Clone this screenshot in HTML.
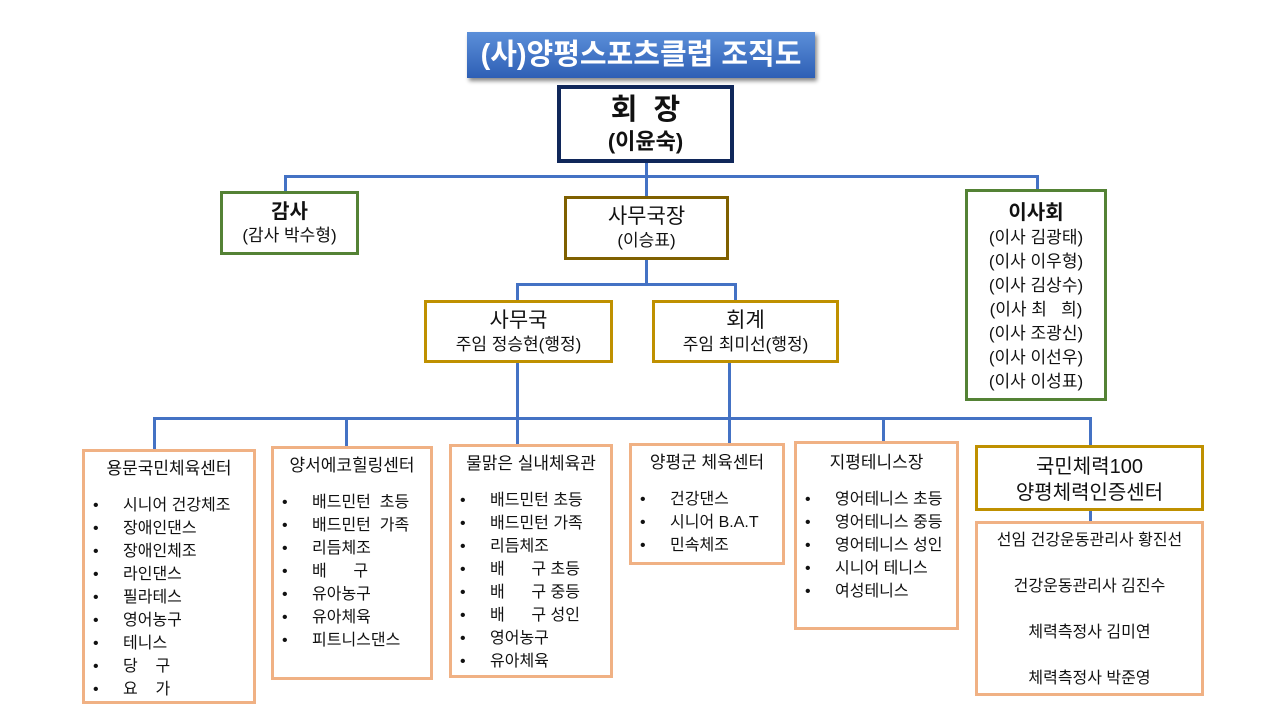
<!DOCTYPE html>
<html><head><meta charset="utf-8"><style>
body{margin:0;width:1280px;height:720px;background:#fff;position:relative;overflow:hidden;font-family:"Liberation Sans","Noto Sans CJK KR",sans-serif;color:#111}
.b{position:absolute;box-sizing:border-box;background:#fff;text-align:center}
.l{position:absolute;background:#4472c4}
.o{border:3px solid #f0b184}
ul{list-style:none;margin:0;padding:0;text-align:left}
ul li{position:relative;padding-left:38px;font-size:16px;line-height:23px}
ul li:before{content:"•";position:absolute;left:8px}
.t{font-size:17px;line-height:22px}
</style></head><body>
<div class="b" style="left:467px;top:32px;width:348px;height:46px;background:linear-gradient(#5b8fd9,#2e5fb5);color:#fff;font-size:29px;font-weight:bold;line-height:46px;box-shadow:2px 3px 4px #888">(사)양평스포츠클럽 조직도</div>

<!-- lines -->
<div class="l" style="left:645px;top:162px;width:3px;height:34px"></div>
<div class="l" style="left:284px;top:175px;width:754px;height:3px"></div>
<div class="l" style="left:284px;top:175px;width:3px;height:17px"></div>
<div class="l" style="left:1036px;top:175px;width:3px;height:15px"></div>
<div class="l" style="left:645px;top:259px;width:3px;height:26px"></div>
<div class="l" style="left:516px;top:283px;width:220px;height:3px"></div>
<div class="l" style="left:516px;top:283px;width:3px;height:18px"></div>
<div class="l" style="left:734px;top:283px;width:3px;height:18px"></div>
<div class="l" style="left:516px;top:362px;width:3px;height:58px"></div>
<div class="l" style="left:728px;top:362px;width:3px;height:58px"></div>
<div class="l" style="left:153px;top:417px;width:939px;height:3px"></div>
<div class="l" style="left:153px;top:417px;width:3px;height:33px"></div>
<div class="l" style="left:345px;top:417px;width:3px;height:30px"></div>
<div class="l" style="left:516px;top:417px;width:3px;height:28px"></div>
<div class="l" style="left:728px;top:417px;width:3px;height:27px"></div>
<div class="l" style="left:882px;top:417px;width:3px;height:25px"></div>
<div class="l" style="left:1089px;top:417px;width:3px;height:29px"></div>
<div class="l" style="left:1089px;top:510px;width:3px;height:12px"></div>

<div class="b" style="left:557px;top:85px;width:177px;height:78px;border:4px solid #10275a">
<div style="font-size:29px;font-weight:bold;line-height:36px;margin-top:3px">회&nbsp;&nbsp;장</div>
<div style="font-size:22px;font-weight:bold;line-height:28px">(이윤숙)</div></div>

<div class="b" style="left:220px;top:191px;width:139px;height:64px;border:3px solid #548235">
<div style="font-size:20px;font-weight:bold;line-height:26px;margin-top:5px">감사</div>
<div class="t">(감사 박수형)</div></div>

<div class="b" style="left:564px;top:196px;width:165px;height:64px;border:3px solid #7f6000">
<div style="font-size:21px;line-height:26px;margin-top:5px">사무국장</div>
<div class="t">(이승표)</div></div>

<div class="b" style="left:965px;top:189px;width:142px;height:212px;border:3px solid #548235">
<div style="font-size:20px;font-weight:bold;line-height:26px;margin-top:8px">이사회</div>
<div class="t" style="line-height:24px">(이사 김광태)<br>(이사 이우형)<br>(이사 김상수)<br>(이사 최&nbsp;&nbsp;&nbsp;희)<br>(이사 조광신)<br>(이사 이선우)<br>(이사 이성표)</div></div>

<div class="b" style="left:424px;top:300px;width:189px;height:63px;border:3px solid #bf9000">
<div style="font-size:21px;line-height:26px;margin-top:5px">사무국</div>
<div class="t">주임 정승현(행정)</div></div>

<div class="b" style="left:652px;top:300px;width:187px;height:63px;border:3px solid #bf9000">
<div style="font-size:21px;line-height:26px;margin-top:5px">회계</div>
<div class="t">주임 최미선(행정)</div></div>

<div class="b o" style="left:82px;top:449px;width:174px;height:255px">
<div class="t" style="margin:6px 0 14px">용문국민체육센터</div>
<ul><li>시니어 건강체조</li><li>장애인댄스</li><li>장애인체조</li><li>라인댄스</li><li>필라테스</li><li>영어농구</li><li>테니스</li><li>당&nbsp;&nbsp;&nbsp;&nbsp;구</li><li>요&nbsp;&nbsp;&nbsp;&nbsp;가</li></ul></div>

<div class="b o" style="left:271px;top:446px;width:162px;height:234px">
<div class="t" style="margin:6px 0 14px">양서에코힐링센터</div>
<ul><li>배드민턴&nbsp; 초등</li><li>배드민턴&nbsp; 가족</li><li>리듬체조</li><li>배&nbsp;&nbsp;&nbsp;&nbsp;&nbsp;&nbsp;구</li><li>유아농구</li><li>유아체육</li><li>피트니스댄스</li></ul></div>

<div class="b o" style="left:449px;top:444px;width:164px;height:234px">
<div class="t" style="margin:6px 0 14px">물맑은 실내체육관</div>
<ul><li>배드민턴 초등</li><li>배드민턴 가족</li><li>리듬체조</li><li>배&nbsp;&nbsp;&nbsp;&nbsp;&nbsp;&nbsp;구 초등</li><li>배&nbsp;&nbsp;&nbsp;&nbsp;&nbsp;&nbsp;구 중등</li><li>배&nbsp;&nbsp;&nbsp;&nbsp;&nbsp;&nbsp;구 성인</li><li>영어농구</li><li>유아체육</li></ul></div>

<div class="b o" style="left:629px;top:443px;width:156px;height:122px">
<div class="t" style="margin:6px 0 14px">양평군 체육센터</div>
<ul><li>건강댄스</li><li>시니어 B.A.T</li><li>민속체조</li></ul></div>

<div class="b o" style="left:794px;top:441px;width:165px;height:189px">
<div class="t" style="margin:8px 0 14px">지평테니스장</div>
<ul><li>영어테니스 초등</li><li>영어테니스 중등</li><li>영어테니스 성인</li><li>시니어 테니스</li><li>여성테니스</li></ul></div>

<div class="b" style="left:975px;top:445px;width:229px;height:66px;border:3px solid #bf9000">
<div style="font-size:20px;line-height:26px;margin-top:6px">국민체력100<br>양평체력인증센터</div></div>

<div class="b o" style="left:975px;top:521px;width:229px;height:175px">
<div style="font-size:16px;line-height:46px;margin-top:-6px">선임 건강운동관리사 황진선<br>건강운동관리사 김진수<br>체력측정사 김미연<br>체력측정사 박준영</div></div>
</body></html>
